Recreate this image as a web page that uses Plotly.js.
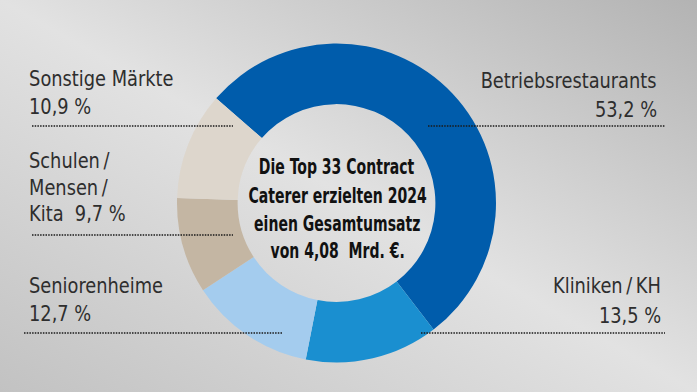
<!DOCTYPE html>
<html>
<head>
<meta charset="utf-8">
<script src="https://cdn.plot.ly/plotly-3.0.1.min.js"></script>
<style>
  html, body { margin: 0; padding: 0; }
  #wrap {
    width: 697px; height: 392px;
    background: linear-gradient(to bottom left, #b3b3b3 0%, #e2e2e2 50%, #c2c2c2 100%);
  }
  #chart { width: 697px; height: 392px; }
</style>
</head>
<body>
<div id="wrap"><div id="chart"></div></div>
<script>
// ---- data ----
const categories = ['Betriebsrestaurants', 'Kliniken/KH', 'Seniorenheime', 'Schulen/Mensen/Kita', 'Sonstige Märkte'];
const shares = [53.2, 13.5, 12.7, 9.7, 10.9];
const sliceColors = ['#005cab', '#1a8fd0', '#a4ccee', '#c4b6a3', '#ddd6cc'];
const centerLines = ['Die Top 33 Contract', 'Caterer erzielten 2024', 'einen Gesamtumsatz', 'von 4,08\u00a0\u00a0Mrd. €.'];

const W = 697, H = 392;
const fmt = v => v.toFixed(1).replace('.', ',') + '\u00a0%';
const px = x => x / W;
const py = y => 1 - y / H;

const FAM = '"DejaVu Sans Condensed", "DejaVu Sans", sans-serif';
const labelFont = { family: FAM, size: 22, color: '#2e2e2e' };
const centerFont = { family: FAM, size: 22, color: '#111111', weight: 'bold' };
const LABEL_SX = 0.9, CENTER_SX = 0.71;

const labelBlocks = [
  { lines: ['Betriebsrestaurants', fmt(shares[0])], x: 659, ys: [81, 110], anchor: 'right' },
  { lines: ['Kliniken\u2009/\u2009KH', fmt(shares[1])], x: 663, ys: [285, 315], anchor: 'right' },
  { lines: ['Seniorenheime', fmt(shares[2])], x: 27, ys: [285, 313], anchor: 'left' },
  { lines: ['Schulen\u2009/', 'Mensen\u2009/', 'Kita\u00a0\u00a0' + fmt(shares[3])], x: 27, ys: [160, 187, 213], anchor: 'left' },
  { lines: ['Sonstige Märkte', fmt(shares[4])], x: 27, ys: [78, 106], anchor: 'left' }
];

const annotations = [];
const squeeze = [];
labelBlocks.forEach(b => {
  b.lines.forEach((t, i) => {
    annotations.push({
      text: t, xref: 'paper', yref: 'paper', x: px(b.x), y: py(b.ys[i]),
      xanchor: b.anchor, yanchor: 'middle', showarrow: false, font: labelFont
    });
    squeeze.push([LABEL_SX, b.anchor]);
  });
});
const centerYs = [167, 195, 223, 250];
centerLines.forEach((t, i) => {
  annotations.push({
    text: '<b>' + t + '</b>', xref: 'paper', yref: 'paper', x: px(337), y: py(centerYs[i]),
    xanchor: 'center', yanchor: 'middle', showarrow: false, font: centerFont
  });
  squeeze.push([CENTER_SX, 'center']);
});

const leaderLines = [
  [32, 233, 126], [32, 233, 235], [24, 282, 333],
  [428, 665, 126], [421, 665, 333]
];
const shapes = leaderLines.map(l => ({
  type: 'line', xref: 'paper', yref: 'paper',
  x0: px(l[0]), x1: px(l[1]), y0: py(l[2]), y1: py(l[2]),
  line: { color: '#1a1a1a', width: 1.5, dash: '1.5px,1.2px' }
}));

const cx = 336.5, cy = 203, r = 159.5;
const trace = {
  type: 'pie',
  labels: categories,
  values: shares,
  marker: { colors: sliceColors, line: { width: 0 } },
  hole: 0.62,
  sort: false,
  direction: 'clockwise',
  rotation: -49,
  textinfo: 'none',
  hoverinfo: 'none',
  showlegend: false,
  domain: { x: [px(cx - r), px(cx + r)], y: [py(cy + r), py(cy - r)] }
};

Plotly.newPlot('chart', [trace], {
  width: W, height: H,
  margin: { l: 0, r: 0, t: 0, b: 0 },
  paper_bgcolor: 'rgba(0,0,0,0)',
  plot_bgcolor: 'rgba(0,0,0,0)',
  showlegend: false,
  annotations: annotations,
  shapes: shapes
}, { displayModeBar: false, staticPlot: true }).then(gd => {
  gd.querySelectorAll('g.annotation').forEach(g => {
    const idx = +g.getAttribute('data-index');
    const s = squeeze[idx];
    const txt = g.querySelector('text.annotation-text');
    if (!s || !txt) return;
    txt.style.transformBox = 'fill-box';
    txt.style.transformOrigin = s[1] === 'left' ? 'left center' : (s[1] === 'right' ? 'right center' : 'center center');
    txt.style.transform = 'scaleX(' + s[0] + ')';
  });
});
</script>
</body>
</html>
